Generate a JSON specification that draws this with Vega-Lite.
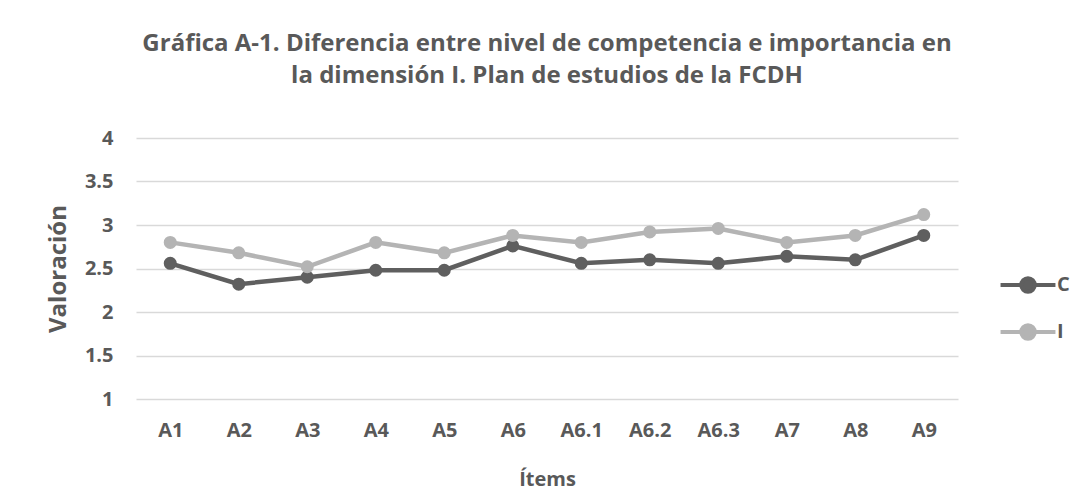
{
  "$schema": "https://vega.github.io/schema/vega-lite/v6.json",
  "autosize": {"type": "none"},
  "padding": {"left": 136, "top": 138, "right": 128, "bottom": 101},
  "width": 822,
  "height": 261,
  "background": "white",
  "title": {
    "text": ["Gráfica A-1. Diferencia entre nivel de competencia e importancia  en", "la dimensión  I. Plan de estudios de la FCDH"],
    "font": "Open Sans",
    "fontSize": 24,
    "fontWeight": "bold",
    "color": "#595959",
    "lineHeight": 32,
    "anchor": "middle",
    "offset": 40
  },
  "data": {
    "values": [
      {"item": "A1", "serie": "C", "valor": 2.56},
      {"item": "A2", "serie": "C", "valor": 2.32},
      {"item": "A3", "serie": "C", "valor": 2.4},
      {"item": "A4", "serie": "C", "valor": 2.48},
      {"item": "A5", "serie": "C", "valor": 2.48},
      {"item": "A6", "serie": "C", "valor": 2.76},
      {"item": "A6.1", "serie": "C", "valor": 2.56},
      {"item": "A6.2", "serie": "C", "valor": 2.6},
      {"item": "A6.3", "serie": "C", "valor": 2.56},
      {"item": "A7", "serie": "C", "valor": 2.64},
      {"item": "A8", "serie": "C", "valor": 2.6},
      {"item": "A9", "serie": "C", "valor": 2.88},
      {"item": "A1", "serie": "I", "valor": 2.8},
      {"item": "A2", "serie": "I", "valor": 2.68},
      {"item": "A3", "serie": "I", "valor": 2.52},
      {"item": "A4", "serie": "I", "valor": 2.8},
      {"item": "A5", "serie": "I", "valor": 2.68},
      {"item": "A6", "serie": "I", "valor": 2.88},
      {"item": "A6.1", "serie": "I", "valor": 2.8},
      {"item": "A6.2", "serie": "I", "valor": 2.92},
      {"item": "A6.3", "serie": "I", "valor": 2.96},
      {"item": "A7", "serie": "I", "valor": 2.8},
      {"item": "A8", "serie": "I", "valor": 2.88},
      {"item": "A9", "serie": "I", "valor": 3.12}
    ]
  },
  "mark": {
    "type": "line",
    "strokeWidth": 4.5,
    "point": {"filled": true, "size": 170, "opacity": 1}
  },
  "encoding": {
    "x": {
      "field": "item",
      "type": "nominal",
      "sort": null,
      "scale": {"paddingInner": 0, "paddingOuter": 0},
      "axis": {
        "title": "Ítems",
        "titleFontSize": 20,
        "labelAngle": 0,
        "labelPadding": 21,
        "titlePadding": 29,
        "domain": false,
        "ticks": false,
        "grid": false
      }
    },
    "y": {
      "field": "valor",
      "type": "quantitative",
      "scale": {"domain": [1, 4], "nice": false, "zero": false},
      "axis": {
        "title": "Valoración",
        "titleFontSize": 24,
        "values": [1, 1.5, 2, 2.5, 3, 3.5, 4],
        "format": "~g",
        "labelPadding": 23,
        "titlePadding": 14,
        "domain": false,
        "ticks": false,
        "grid": true
      }
    },
    "color": {
      "field": "serie",
      "type": "nominal",
      "scale": {"domain": ["C", "I"], "range": ["#5f5f5f", "#b4b4b4"]},
      "legend": {
        "title": null,
        "orient": "none",
        "legendX": 875,
        "legendY": 130,
        "symbolType": "M-1.83,0H-0.45M0.45,0H1.83M-0.45,0A0.45,0.45 0 1,0 0.45,0A0.45,0.45 0 1,0 -0.45,0Z",
        "symbolSize": 900,
        "symbolStrokeWidth": 4,
        "rowPadding": 15,
        "labelOffset": 12
      }
    }
  },
  "config": {
    "font": "Open Sans",
    "view": {"stroke": null},
    "axis": {
      "labelFont": "Open Sans",
      "labelFontSize": 20,
      "labelFontWeight": "bold",
      "labelColor": "#595959",
      "titleFont": "Open Sans",
      "titleFontWeight": "bold",
      "titleColor": "#595959",
      "gridColor": "#d9d9d9",
      "gridWidth": 1.3
    },
    "legend": {
      "labelFont": "Open Sans",
      "labelFontSize": 20,
      "labelFontWeight": "bold",
      "labelColor": "#595959"
    }
  }
}
